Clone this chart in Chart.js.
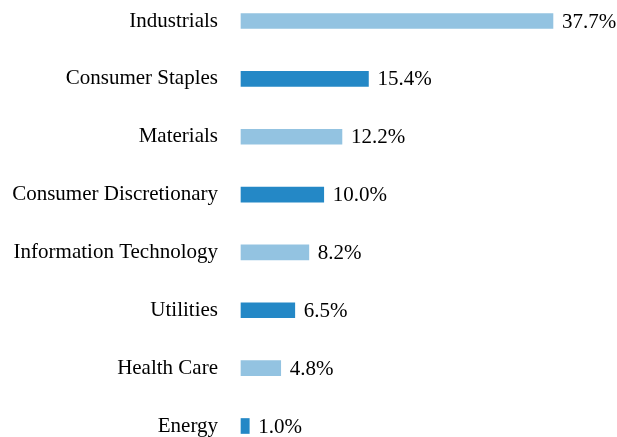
<!DOCTYPE html>
<html>
<head>
<meta charset="utf-8">
<script src="https://cdn.jsdelivr.net/npm/chart.js@4"></script>
<style>
  html, body { margin: 0; padding: 0; background: #fff; }
  #wrap { width: 617px; height: 437px; position: relative; }
</style>
</head>
<body>
<div id="wrap"><canvas id="sectorChart"></canvas></div>
<script>
const sectors = ['Industrials', 'Consumer Staples', 'Materials', 'Consumer Discretionary',
    'Information Technology', 'Utilities', 'Health Care', 'Energy'];
const weights = [37.7, 15.4, 12.2, 10.0, 8.2, 6.5, 4.8, 1.0];
const barColors = ['#93c3e1', '#2488c6'];

const fontFamily = '"Liberation Serif", "Times New Roman", serif';

// value labels at the end of each bar
const valueLabels = {
    id: 'valueLabels',
    afterDatasetsDraw(chart) {
        const ctx = chart.ctx;
        const meta = chart.getDatasetMeta(0);
        ctx.save();
        ctx.font = '21px ' + fontFamily;
        ctx.fillStyle = '#000';
        ctx.textAlign = 'left';
        ctx.textBaseline = 'middle';
        meta.data.forEach((bar, i) => {
            ctx.fillText(weights[i].toFixed(1) + '%', bar.x + 9, bar.y + 1);
        });
        ctx.restore();
    }
};

new Chart(document.getElementById('sectorChart'), {
    type: 'bar',
    data: {
        labels: sectors,
        datasets: [{
            data: weights,
            backgroundColor: weights.map((v, i) => barColors[i % 2]),
            barThickness: 15,
            clip: false
        }]
    },
    options: {
        indexAxis: 'y',
        responsive: true,
        maintainAspectRatio: false,
        animation: false,
        layout: { padding: { left: 0, right: 45, top: 21, bottom: 11 } },
        plugins: {
            legend: { display: false },
            tooltip: { enabled: false }
        },
        scales: {
            x: {
                display: false,
                min: 0,
                max: 40
            },
            y: {
                offset: false,
                border: { display: false },
                grid: { display: false, drawTicks: false },
                ticks: {
                    color: '#000',
                    padding: 23,
                    font: { family: fontFamily, size: 21 }
                },
                afterFit(scale) {
                    scale.width = 241;
                    scale.paddingTop = 0;
                    scale.paddingBottom = 0;
                }
            }
        }
    },
    plugins: [valueLabels]
});
</script>
</body>
</html>
